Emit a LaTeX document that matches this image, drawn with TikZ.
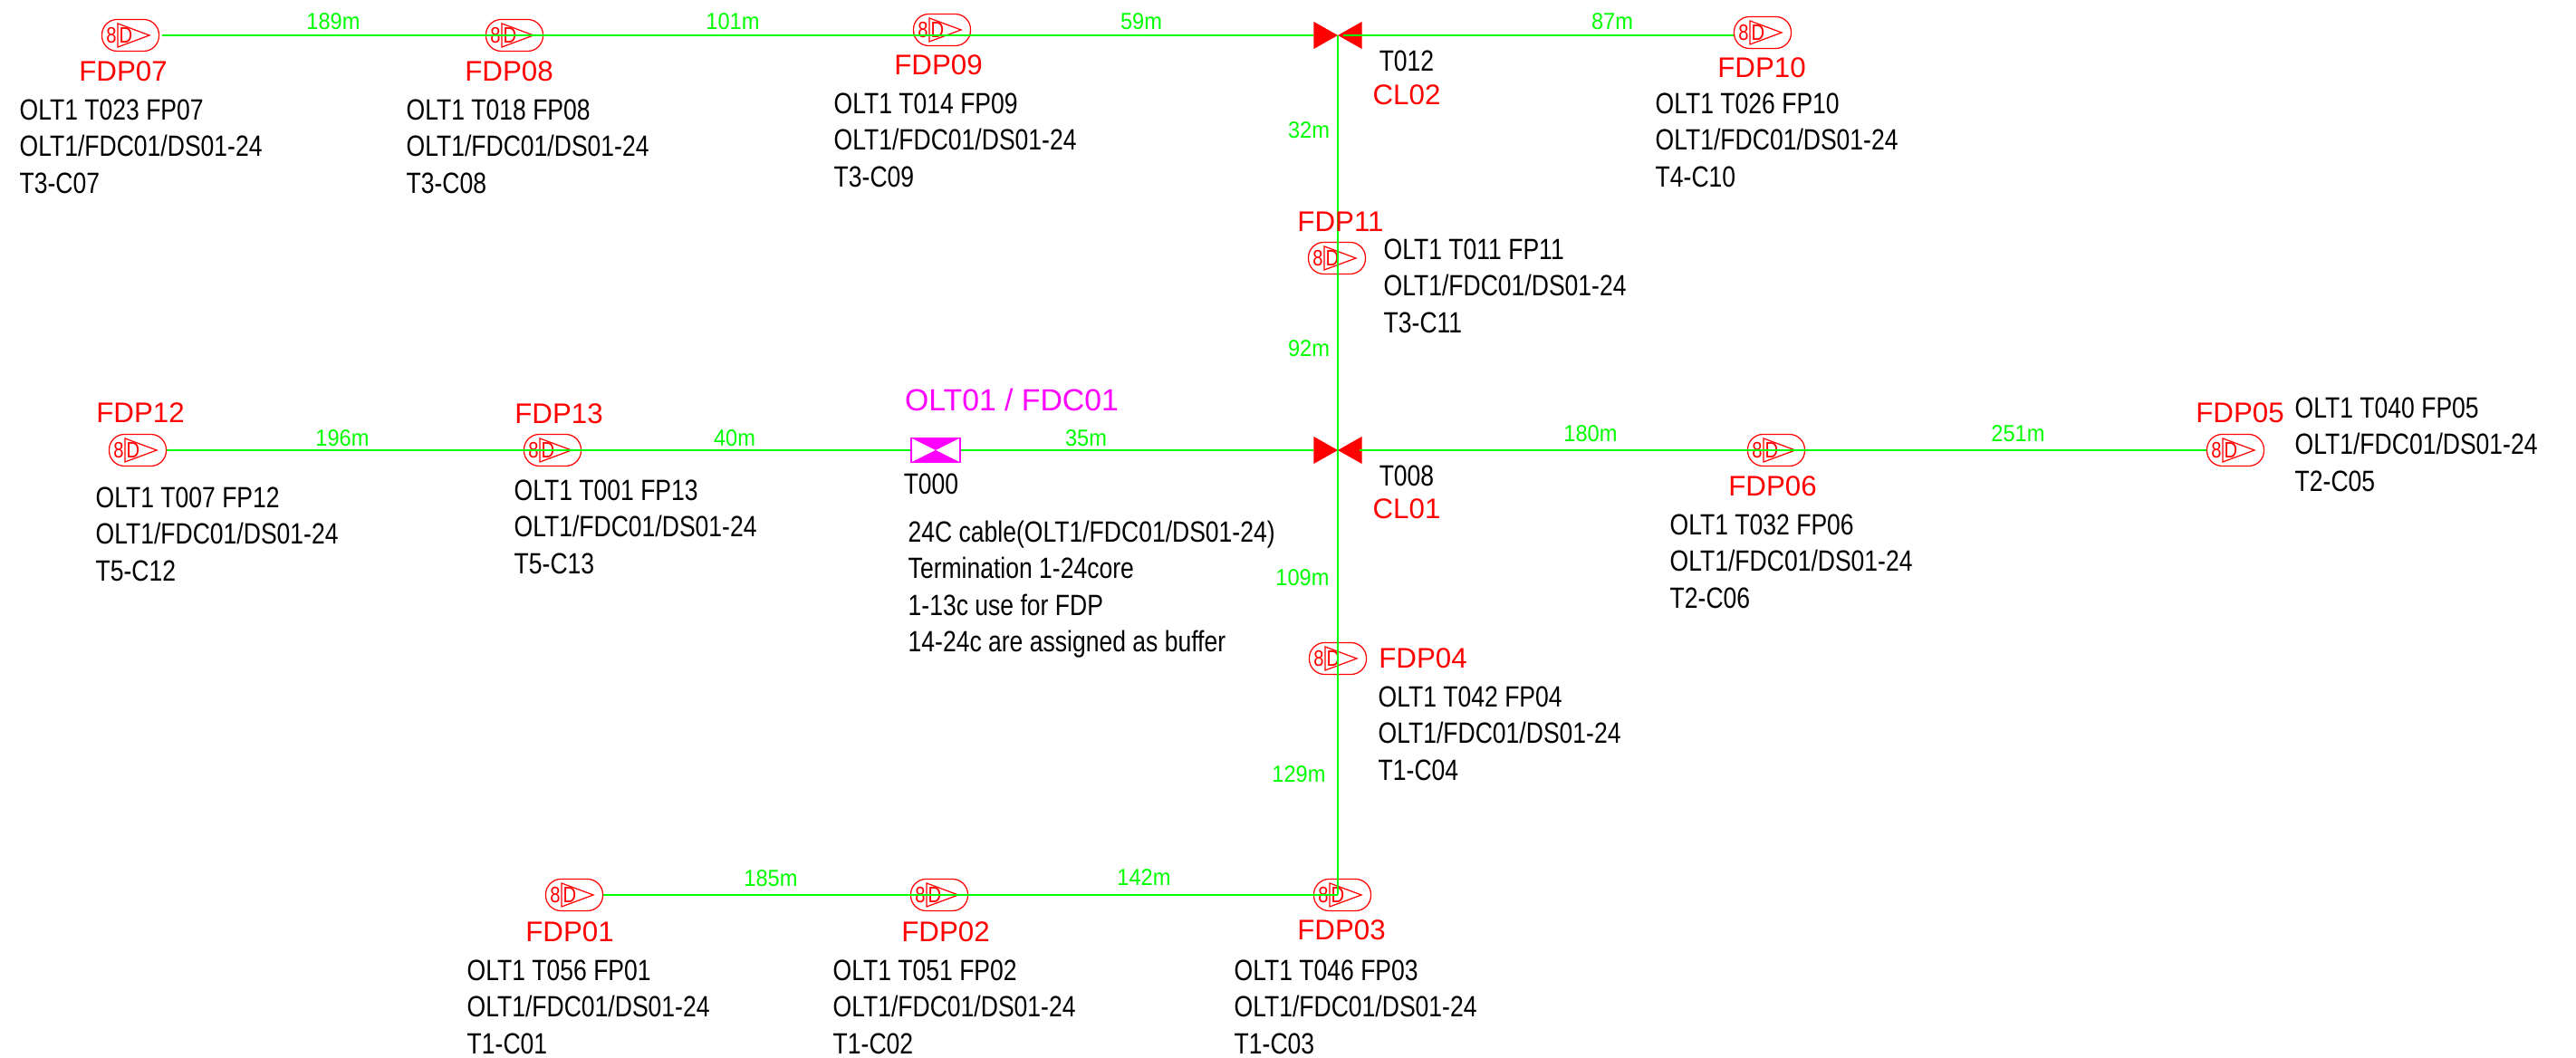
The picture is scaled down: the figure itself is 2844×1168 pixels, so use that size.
\documentclass[tikz,border=0pt]{standalone}
\usepackage{fontspec}
\setmainfont{Liberation Sans}
\newfontfamily\narrowfont[FakeStretch=.82]{Liberation Sans}
\newfontfamily\greenfont[FakeStretch=.92]{Liberation Sans}

\definecolor{cablegreen}{RGB}{0,255,0}
\definecolor{olt}{RGB}{255,0,255}

\tikzset{
  cable/.style={draw=cablegreen,line width=.42pt},
  dist/.style={text=cablegreen,font=\greenfont\fontsize{7.3}{8}\selectfont,inner sep=0pt},
  fdpname/.style={text=red,font=\fontsize{8.9}{9}\selectfont,inner sep=0pt},
  info/.style={align=left,anchor=north west,font=\narrowfont\fontsize{9.2}{11.55}\selectfont,inner sep=0pt},
  tag/.style={font=\narrowfont\fontsize{9.2}{10}\selectfont,inner sep=0pt},
  fdpbox/.style={draw=red,line width=.35pt,rounded corners=.17cm,minimum width=.63cm,minimum height=.35cm,inner sep=0pt,
    path picture={
      \draw [red,sharp corners,line width=.35pt] ([shift={(-.14cm,-.13cm)}]path picture bounding box.center) -- ++(0,.26cm) -- ++(.35cm,-.13cm) -- cycle;
      \node [text=red,inner sep=0pt,font=\narrowfont\fontsize{7}{7}\selectfont] at ([xshift=-.21cm]path picture bounding box.center) {8};
      \node [text=red,inner sep=0pt,font=\narrowfont\fontsize{7}{7}\selectfont] at ([xshift=-.05cm]path picture bounding box.center) {D};
    }},
  closure/.style={inner sep=0pt,minimum width=.53cm,minimum height=.3cm,
    path picture={
      \fill [red] (path picture bounding box.north west) -- (path picture bounding box.center) -- (path picture bounding box.north east) -- (path picture bounding box.south east) -- (path picture bounding box.center) -- (path picture bounding box.south west) -- cycle;
    }},
  oltbox/.style={draw=olt,fill=white,line width=.5pt,minimum width=.54cm,minimum height=.27cm,inner sep=0pt,
    path picture={
      \fill [olt] (path picture bounding box.north west) -- (path picture bounding box.north east) -- (path picture bounding box.south west) -- (path picture bounding box.south east) -- cycle;
    }}
}

\begin{document}
\begin{tikzpicture}[x=.01cm,y=-.01cm]
\useasboundingbox (0,0) rectangle (2844,1168);

\foreach \name/\x/\y in {F07/144/39,F08/568/39,F09/1040/33,F10/1946/36,F11/1476/285,F12/152/497,F13/610/497,F06/1961/497,F05/2468/497,F04/1477/727,F03/1482/988,F02/1037/988,F01/634/988}
\node [fdpbox] (\name) at (\x,\y) {};

\node [oltbox] (T000) at (1033,497) {};
\node [closure] (CL02) at (1477,39) {};
\node [closure] (CL01) at (1477,497) {};
\coordinate (elbow) at (CL02 |- F03);

% cables
\draw [cable] ([xshift=.03cm]F07.east) -- (CL02.west);
\draw [cable] ([xshift=-.21cm]CL02.east) -- (F10.west |- CL02);
\draw [cable] (CL02.center) -- (elbow);
\draw [cable] (F12.east) -- (T000.west);
\draw [cable] (T000.east) -- (CL01.west);
\draw [cable] ([xshift=-.03cm]CL01.east) -- (F05.west);
\draw [cable] (F01.east) -- (elbow);

% FDP names
\foreach \txt/\x/\y in {FDP07/136/79,FDP08/562/79,FDP09/1036/72,FDP10/1945/75,FDP11/1480/245,FDP12/155/456,FDP13/617/457,FDP06/1957/537,FDP05/2473/456,FDP04/1571/727,FDP03/1481/1027,FDP02/1044/1029,FDP01/629/1029,CL02/1553/105,CL01/1553/562}
\node [fdpname] (n\txt) at (\x,\y) {\txt};

\node [tag] (t012) at (1553,67) {T012};
\node [tag] (t008) at (1553,525) {T008};
\node [tag] (t000) at (1028,534) {T000};
\node [text=olt,inner sep=0pt,font=\fontsize{9.6}{10}\selectfont] (oltname) at (1117,441) {OLT01 / FDC01};

% distances
\foreach \txt/\x/\y in {189m/368/24,101m/809/24,59m/1260/24,87m/1780/24,32m/1445/144,92m/1445/385,196m/378/484,40m/811/484,35m/1199/484,180m/1756/479,251m/2228/479,109m/1438/638,129m/1434/855,185m/851/970,142m/1263/969}
\node [dist] (d\txt) at (\x,\y) {\txt};

% info blocks
\foreach \a/\c/\x/\y in {OLT1 T023 FP07/T3-C07/21/109,OLT1 T018 FP08/T3-C08/448/109,OLT1 T014 FP09/T3-C09/920/102,OLT1 T026 FP10/T4-C10/1827/102,OLT1 T011 FP11/T3-C11/1527/263,OLT1 T007 FP12/T5-C12/105/537,OLT1 T001 FP13/T5-C13/567/529,OLT1 T032 FP06/T2-C06/1843/567,OLT1 T040 FP05/T2-C05/2533/438,OLT1 T042 FP04/T1-C04/1521/757,OLT1 T046 FP03/T1-C03/1362/1059,OLT1 T051 FP02/T1-C02/919/1059,OLT1 T056 FP01/T1-C01/515/1059}
\node [info] (i\c) at (\x,\y) {\a\\OLT1/FDC01/DS01-24\\\c};

\node [info] (note) at (1002,574) {24C cable(OLT1/FDC01/DS01-24)\\Termination 1-24core\\1-13c use for FDP\\14-24c are assigned as buffer};
\end{tikzpicture}
\end{document}
